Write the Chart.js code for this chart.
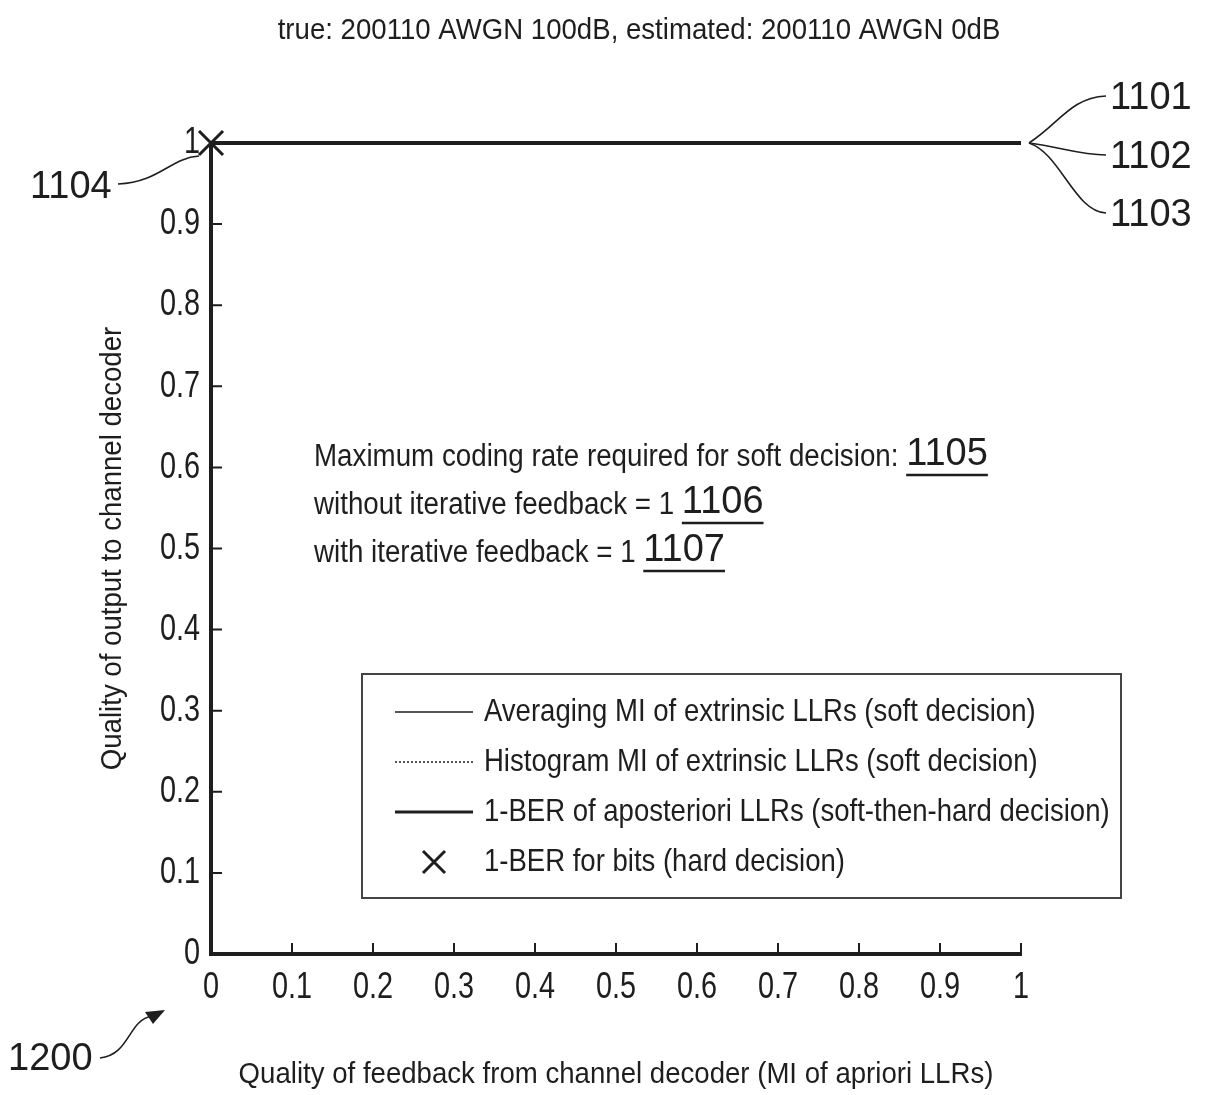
<!DOCTYPE html>
<html>
<head>
<meta charset="utf-8">
<script src="https://cdn.jsdelivr.net/npm/chart.js@4.4.1/dist/chart.umd.min.js"></script>
<style>
  html, body { margin: 0; padding: 0; background: #fff; }
</style>
</head>
<body>
<canvas id="exitChart" width="1207" height="1095"></canvas>
<script>
// values
const xValues = [0, 0.1, 0.2, 0.3, 0.4, 0.5, 0.6, 0.7, 0.8, 0.9, 1]
const averagingMI = [1, 1, 1, 1, 1, 1, 1, 1, 1, 1, 1]
const histogramMI = [1, 1, 1, 1, 1, 1, 1, 1, 1, 1, 1]
const berAposteriori = [1, 1, 1, 1, 1, 1, 1, 1, 1, 1, 1]
const hardBitsX = [0]
const hardBitsY = [1]

const tickValues = [0, 0.1, 0.2, 0.3, 0.4, 0.5, 0.6, 0.7, 0.8, 0.9, 1]
const tickLabels = ['0', '0.1', '0.2', '0.3', '0.4', '0.5', '0.6', '0.7', '0.8', '0.9', '1']

const seriesLabels = [
  'Averaging MI of extrinsic LLRs (soft decision)',
  'Histogram MI of extrinsic LLRs (soft decision)',
  '1-BER of aposteriori LLRs (soft-then-hard decision)',
  '1-BER for bits (hard decision)'
]
const titleText = 'true: 200110 AWGN 100dB, estimated: 200110 AWGN 0dB'
const noteLines = [
  ['Maximum coding rate required for soft decision: ', '1105'],
  ['without iterative feedback = 1 ', '1106'],
  ['with iterative feedback = 1 ', '1107']
]

const ink = '#1e1e1e'
const sans = '"Liberation Sans", Arial, sans-serif'

// the figure uses a condensed face; no narrow font is installed,
// so text is squeezed horizontally, by font size
const squeeze = { 37: 0.78, 32: 0.86, 31: 0.895, 30: 0.92 }

function condense(ctx) {
  const fill = ctx.fillText.bind(ctx)
  const measure = ctx.measureText.bind(ctx)
  const factor = () => {
    const m = /(\d+(?:\.\d+)?)px/.exec(ctx.font)
    return (m && squeeze[Math.round(+m[1])]) || 1
  }
  ctx.fillText = (text, x, y, maxWidth) => {
    const f = factor()
    if (f === 1) return fill(text, x, y)
    ctx.save()
    ctx.translate(x, y)
    ctx.scale(f, 1)
    fill(text, 0, 0)
    ctx.restore()
  }
  ctx.measureText = text => {
    const m = measure(text)
    return {
      width: m.width * factor(),
      actualBoundingBoxAscent: m.actualBoundingBoxAscent,
      actualBoundingBoxDescent: m.actualBoundingBoxDescent
    }
  }
}

function pairs(xs, ys) {
  return xs.map((x, i) => ({ x: x, y: ys[i] }))
}

const inwardTicks = {
  id: 'inwardTicks',
  afterDraw(chart) {
    const ctx = chart.ctx
    const xs = chart.scales.x
    const ys = chart.scales.y
    const a = chart.chartArea
    ctx.save()
    ctx.strokeStyle = ink
    ctx.lineWidth = 2
    ctx.beginPath()
    tickValues.forEach(v => {
      if (v === 0) return
      const px = xs.getPixelForValue(v)
      ctx.moveTo(px, a.bottom)
      ctx.lineTo(px, a.bottom - 11)
      const py = ys.getPixelForValue(v)
      ctx.moveTo(a.left, py)
      ctx.lineTo(a.left + 11, py)
    })
    ctx.stroke()
    ctx.restore()
  }
}

function curve(ctx, x0, y0, c1x, c1y, c2x, c2y, x1, y1) {
  ctx.beginPath()
  ctx.moveTo(x0, y0)
  ctx.bezierCurveTo(c1x, c1y, c2x, c2y, x1, y1)
  ctx.stroke()
}

const extras = {
  id: 'extras',
  afterDraw(chart) {
    const ctx = chart.ctx
    const xs = chart.scales.x
    const ys = chart.scales.y
    ctx.save()
    ctx.fillStyle = ink
    ctx.strokeStyle = ink

    // title
    ctx.font = '30px ' + sans
    ctx.textAlign = 'center'
    ctx.textBaseline = 'middle'
    ctx.fillText(titleText, 639, 31)

    // note block
    ctx.textAlign = 'left'
    noteLines.forEach((ln, i) => {
      const y = 457 + i * 48
      ctx.font = '31px ' + sans
      ctx.fillText(ln[0], 314, y)
      const w = ctx.measureText(ln[0]).width
      ctx.font = '38px ' + sans
      ctx.fillText(ln[1], 314 + w, y - 2)
      const nw = ctx.measureText(ln[1]).width
      ctx.lineWidth = 2.5
      ctx.beginPath()
      ctx.moveTo(314 + w, y + 18)
      ctx.lineTo(314 + w + nw, y + 18)
      ctx.stroke()
    })

    // legend box
    const lx = 362, ly = 674, lw = 759, lh = 224
    ctx.lineWidth = 2
    ctx.strokeStyle = '#444'
    ctx.strokeRect(lx, ly, lw, lh)
    ctx.strokeStyle = ink
    chart.data.datasets.forEach((d, i) => {
      const y = 712 + i * 50
      ctx.save()
      if (d.showLine === false) {
        ctx.lineWidth = 3
        const c = 434, r = 11
        ctx.beginPath()
        ctx.moveTo(c - r, y - r); ctx.lineTo(c + r, y + r)
        ctx.moveTo(c + r, y - r); ctx.lineTo(c - r, y + r)
        ctx.stroke()
      } else {
        ctx.lineWidth = Math.min(d.borderWidth, 3)
        ctx.setLineDash(d.borderDash || [])
        ctx.beginPath()
        ctx.moveTo(395, y)
        ctx.lineTo(473, y)
        ctx.stroke()
      }
      ctx.restore()
      ctx.font = '32px ' + sans
      ctx.textAlign = 'left'
      ctx.textBaseline = 'middle'
      ctx.fillText(d.label, 484, y)
    })

    // reference numerals and leader lines
    ctx.font = '38px ' + sans
    ctx.textAlign = 'left'
    ctx.textBaseline = 'middle'
    ctx.lineWidth = 1.6
    const ex = xs.getPixelForValue(1) + 8
    const ey = ys.getPixelForValue(1)
    curve(ctx, ex, ey, 1060, ey - 20, 1070, 98, 1106, 96)
    curve(ctx, ex, ey, 1060, ey + 4, 1080, 155, 1106, 155)
    curve(ctx, ex, ey, 1060, ey + 10, 1075, 212, 1106, 213)
    ctx.fillText('1101', 1110, 99)
    ctx.fillText('1102', 1110, 158)
    ctx.fillText('1103', 1110, 216)

    const mx = xs.getPixelForValue(hardBitsX[0])
    const my = ys.getPixelForValue(hardBitsY[0])
    curve(ctx, 118, 184, 160, 182, 170, 158, mx - 12, my + 13)
    ctx.fillText('1104', 30, 188)

    ctx.fillText('1200', 8, 1060)
    curve(ctx, 100, 1058, 130, 1055, 128, 1020, 152, 1016)
    ctx.beginPath()
    ctx.moveTo(165, 1010)
    ctx.lineTo(145, 1012)
    ctx.lineTo(153, 1024)
    ctx.closePath()
    ctx.fill()

    ctx.restore()
  }
}

const canvas = document.getElementById('exitChart')
condense(canvas.getContext('2d'))

new Chart(canvas, {
  type: 'scatter',
  data: {
    datasets: [{
      label: seriesLabels[0],
      data: pairs(xValues, averagingMI),
      showLine: true,
      borderColor: ink,
      borderWidth: 1.5,
      pointRadius: 0,
      clip: false
    }, {
      label: seriesLabels[1],
      data: pairs(xValues, histogramMI),
      showLine: true,
      borderColor: ink,
      borderWidth: 1.5,
      borderDash: [2, 2],
      pointRadius: 0,
      clip: false
    }, {
      label: seriesLabels[2],
      data: pairs(xValues, berAposteriori),
      showLine: true,
      borderColor: ink,
      borderWidth: 4,
      pointRadius: 0,
      clip: false
    }, {
      label: seriesLabels[3],
      data: pairs(hardBitsX, hardBitsY),
      showLine: false,
      pointStyle: 'crossRot',
      pointRadius: 17,
      borderColor: ink,
      borderWidth: 3,
      clip: false
    }]
  },
  options: {
    responsive: false,
    animation: false,
    devicePixelRatio: 1,
    layout: { padding: { left: 0, right: 186, top: 143, bottom: 0 } },
    plugins: {
      legend: { display: false },
      tooltip: { enabled: false }
    },
    scales: {
      x: {
        type: 'linear',
        min: 0,
        max: 1,
        afterFit: s => { s.height = 141 },
        afterBuildTicks: s => { s.ticks = tickValues.map(v => ({ value: v })) },
        grid: { display: false, drawTicks: false },
        border: { display: true, width: 4, color: ink },
        ticks: {
          padding: 12,
          color: ink,
          font: { family: sans, size: 37 },
          maxRotation: 0,
          callback: (v, i) => tickLabels[i]
        },
        title: {
          display: true,
          text: 'Quality of feedback from channel decoder (MI of apriori LLRs)',
          color: ink,
          font: { family: sans, size: 30, lineHeight: 1.2 },
          padding: { top: 0, bottom: 2 }
        }
      },
      y: {
        type: 'linear',
        min: 0,
        max: 1,
        afterFit: s => { s.width = 211 },
        afterBuildTicks: s => { s.ticks = tickValues.map(v => ({ value: v })) },
        grid: { display: false, drawTicks: false },
        border: { display: true, width: 4, color: ink },
        ticks: {
          padding: 11,
          color: ink,
          font: { family: sans, size: 37 },
          callback: (v, i) => tickLabels[i]
        },
        title: {
          display: true,
          text: 'Quality of output to channel decoder',
          color: ink,
          font: { family: sans, size: 30, lineHeight: 1.2 },
          padding: { top: 95, bottom: 0 }
        }
      }
    }
  },
  plugins: [inwardTicks, extras]
})
</script>
</body>
</html>
